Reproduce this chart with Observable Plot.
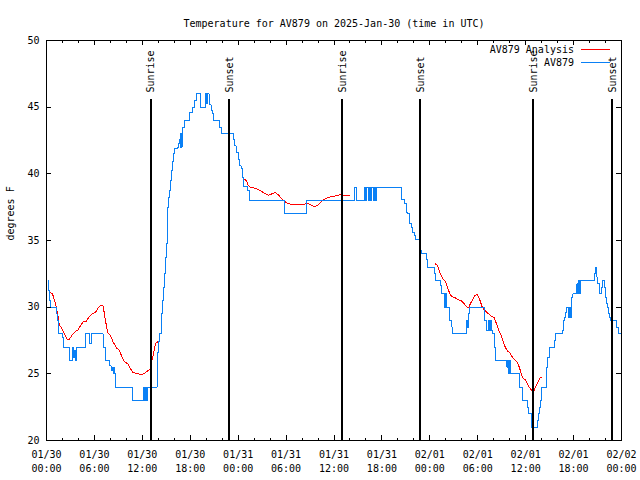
<!DOCTYPE html>
<html><head><meta charset="utf-8">
<script src="https://cdn.jsdelivr.net/npm/d3@7"></script>
<script src="https://cdn.jsdelivr.net/npm/@observablehq/plot@0.6"></script>
<style>body{margin:0;background:#fff} svg{display:block}</style>
</head><body><div id="chart"></div>
<script>
// ---- data (hours since 2025-01-30 00:00 UTC, degrees F) ----
const startUTC = Date.UTC(2025, 0, 30);
const titleText = "Temperature for AV879 on 2025-Jan-30 (time in UTC)";
const yLabel = "degrees F";
const seriesNames = ["AV879 Analysis", "AV879"];
const seriesColors = ["#ff0000", "#0a80f5"];
const yTicks = [20, 25, 30, 35, 40, 45, 50];
const xMajorHours = [0, 6, 12, 18, 24, 30, 36, 42, 48, 54, 60, 66, 72];
const xMinorHours = d3.range(0, 73, 2);
const xTickLabels = ["01/30\n00:00","01/30\n06:00","01/30\n12:00","01/30\n18:00","01/31\n00:00","01/31\n06:00","01/31\n12:00","01/31\n18:00","02/01\n00:00","02/01\n06:00","02/01\n12:00","02/01\n18:00","02/02\n00:00"];
const sunHours = [13.1, 22.94, 37.08, 46.85, 60.99, 70.88];
const sunLabels = ["Sunrise", "Sunset", "Sunrise", "Sunset", "Sunrise", "Sunset"];

// observed (step series)
const observed = [
[0.25,32],[0.29,31.25],[0.42,30.5],[0.54,30],[1.21,29.5],[1.33,29],[1.46,28],[1.96,27.75],[2.09,27],[2.92,26],
[3.25,27],[3.42,26.25],[3.55,26.75],[3.63,26],[3.75,27],[4.92,28],[5.42,27.25],[5.59,28],[7.09,27],[7.38,26],
[7.93,25.6],[8.09,25.25],[8.22,25.5],[8.34,25],[8.43,25.5],[8.51,25],[8.68,24],[10.81,23],[12.18,24],[12.31,23],
[12.43,24],[12.56,23],[12.68,24],[13.85,25.5],[13.93,26.6],[14.06,27.4],[14.19,28],[14.35,28.5],[14.44,29.5],[14.56,30.5],
[14.69,31.5],[14.77,32.5],[14.89,33.75],[14.98,34.75],[15.1,36.2],[15.19,37.5],[15.31,38.25],[15.39,38.75],[15.52,39.5],[15.64,40.25],
[15.81,40.9],[15.94,41.5],[16.06,41.9],[16.35,42],[16.52,42.3],[16.64,42.6],[16.73,42],[16.8,43],[16.9,42],[16.98,43],
[17.06,43.5],[17.31,44],[17.94,44.6],[18.23,45],[18.56,45.5],[18.73,46],[19.27,45],[19.95,46],[20.08,45.3],[20.2,46],
[20.35,45.2],[20.6,44.75],[20.78,44.5],[20.94,44],[21.69,43.5],[21.9,43],[23.44,42.6],[23.57,42.1],[23.73,41.6],[24.07,41.1],
[24.19,40.6],[24.36,40.4],[24.49,39.75],[24.62,39.05],[25.2,38.75],[25.41,38],[29.83,37],[32.55,38],[38.6,39],[38.77,38],
[39.84,39],[40.0,38],[40.1,39],[40.3,38],[40.43,39],[40.6,38],[40.72,39],[40.89,38],[41.01,39],[41.18,38],
[41.3,39],[44.5,38.1],[44.8,37.75],[45.05,37.1],[45.22,37],[45.47,36.25],[45.68,36],[45.89,35.6],[46.06,35.4],[46.18,35.05],
[46.81,34.25],[46.9,34],[47.56,33.6],[47.73,33],[48.56,32.5],[48.69,32],[49.31,31.6],[49.44,31],[49.86,30],[49.95,31],
[50.07,30],[50.44,29],[50.77,28.5],[50.86,28],[52.65,29],[52.75,28.5],[52.86,29.5],[52.98,30],[54.82,29],[55.07,28.75],
[55.15,28.25],[55.3,29],[55.45,28.25],[55.57,29],[55.7,28.25],[55.9,28],[56.07,27],[56.28,26],[57.66,25.5],[57.75,26],
[57.85,25],[57.95,26],[58.16,25],[59.2,24],[59.66,23],[60.24,22.5],[60.37,22],[60.75,21],[61.54,21.5],[61.62,22],
[61.74,22.5],[61.91,23],[62.03,24],[62.58,24.4],[62.66,25.5],[62.79,26.25],[62.99,27],[63.62,27.5],[63.75,28],[64.62,28.25],
[64.75,29],[64.87,29.25],[65.04,29.6],[65.16,30],[65.37,29.25],[65.5,30],[65.58,29.25],[65.71,30.4],[65.79,30.75],[65.92,31],
[66.33,31.5],[66.42,31.75],[66.5,31],[66.6,32],[66.7,31],[66.84,32],[68.63,32.5],[68.75,33],[68.92,32.25],[69.04,31.75],
[69.21,31],[69.54,31.5],[69.67,32],[69.83,31.5],[69.96,30.75],[70.09,30.25],[70.21,30],[70.34,29.5],[70.46,29.25],[70.63,29],
[71.38,28.5],[71.63,28],[71.85,28]
];

// analysis (null separates segments)
const analysis = [
[0.5,31.1],[0.75,31.0],[1.2,30.1],[1.42,29.4],[1.63,28.6],[1.83,28.5],[2.17,28.1],[2.58,27.6],[2.8,27.55],[3.21,27.9],
[3.63,28.2],[3.9,28.25],[4.25,28.6],[4.58,28.9],[5.0,28.95],[5.3,29.25],[5.7,29.5],[6.13,29.6],[6.42,29.9],[6.75,30.1],
[7.09,30.1],[7.38,29.0],[7.67,28.1],[8.0,27.9],[8.34,27.4],[8.75,26.95],[9.13,26.75],[9.47,26.25],[9.76,25.9],[10.2,25.75],
[10.5,25.4],[10.85,25.07],[11.35,25.05],[11.76,24.95],[12.18,25.0],[12.6,25.2],[13.02,25.35],[13.14,25.9],[13.35,26.4],[13.52,26.9],
[13.68,27.3],[14.06,27.45],
[14.5,null],
[24.7,39.6],[25.03,39.5],[25.2,39.2],[25.53,39.0],[26.16,38.9],[26.78,38.75],[27.12,38.6],[27.41,38.5],[27.82,38.4],[28.24,38.5],
[28.66,38.6],[29.08,38.4],[29.5,38.1],[29.7,38.0],[30.12,37.8],[30.7,37.7],[32.2,37.7],[32.6,37.8],[33.0,37.7],[33.45,37.55],
[33.87,37.6],[34.29,37.85],[34.7,38.05],[35.3,38.25],[35.96,38.3],[36.8,38.45],[37.0,38.4],[37.97,38.4],
[40,null],
[48.69,33.25],[48.98,33.1],[49.23,32.6],[49.52,32.25],[49.73,32.05],[49.94,31.95],[50.15,31.6],[50.35,31.25],[50.56,30.95],[50.77,30.8],
[51.19,30.7],[51.61,30.55],[51.9,30.5],[52.23,30.3],[52.57,30.05],[52.86,29.95],[53.07,30.25],[53.4,30.6],[53.69,30.9],[53.9,30.95],
[54.11,30.75],[54.32,30.45],[54.52,30.05],[54.82,29.8],[55.15,29.6],[55.48,29.45],[55.77,29.3],[56.07,29.2],[56.32,28.8],[56.61,28.3],
[56.9,27.9],[57.15,27.5],[57.44,27.0],[57.74,26.7],[58.07,26.55],[58.28,26.3],[58.57,26.1],[58.82,25.95],[58.99,25.8],[59.24,25.45],
[59.41,25.05],[59.66,24.7],[59.95,24.55],[60.24,24.25],[60.49,23.95],[60.79,23.75],[61.0,23.7],[61.2,23.95],[61.41,24.2],[61.62,24.45],
[61.83,24.7],[62.03,24.7]
];

// ---- chart ----
const toDate = h => new Date(startUTC + h * 3600e3);
const font = "'DejaVu Sans Mono', monospace";

const chart = Plot.plot({
  width: 640, height: 480,
  marginLeft: 46, marginRight: 19, marginTop: 40, marginBottom: 40,
  style: {fontFamily: font, fontSize: "10px", background: "white", color: "black", overflow: "visible"},
  x: {type: "utc", domain: [toDate(0), toDate(72)], axis: null},
  y: {domain: [20, 50], axis: null},
  marks: [
    // data
    Plot.line(analysis, {x: d => toDate(d[0]), y: d => d[1], stroke: seriesColors[0], strokeWidth: 1, shapeRendering: "crispEdges"}),
    Plot.line(observed, {x: d => toDate(d[0]), y: d => d[1], stroke: seriesColors[1], strokeWidth: 1, curve: "step-after", shapeRendering: "crispEdges"}),
    // sun lines + labels
    Plot.ruleX(sunHours, {x: toDate, stroke: "black", strokeWidth: 2, dx: -0.5, insetTop: 59, shapeRendering: "crispEdges"}),
    Plot.text(sunHours, {x: toDate, text: (d, i) => sunLabels[i], frameAnchor: "top", dy: 52, rotate: -90, textAnchor: "start", lineAnchor: "middle", fill: "black"}),
    // ticks (inward, mirrored)
    Plot.ruleX(xMajorHours, {x: toDate, insetTop: 395, stroke: "black", shapeRendering: "crispEdges"}),
    Plot.ruleX(xMajorHours, {x: toDate, insetBottom: 395, stroke: "black", shapeRendering: "crispEdges"}),
    Plot.ruleX(xMinorHours, {x: toDate, insetTop: 397.5, stroke: "black", shapeRendering: "crispEdges"}),
    Plot.ruleX(xMinorHours, {x: toDate, insetBottom: 397.5, stroke: "black", shapeRendering: "crispEdges"}),
    Plot.ruleY(yTicks, {y: d => d, insetRight: 570, stroke: "black", shapeRendering: "crispEdges"}),
    Plot.ruleY(yTicks, {y: d => d, insetLeft: 570, stroke: "black", shapeRendering: "crispEdges"}),
    Plot.frame({stroke: "black", shapeRendering: "crispEdges"}),
    // tick labels
    Plot.text(yTicks, {y: d => d, text: d => String(d), frameAnchor: "left", dx: -7, textAnchor: "end", fill: "black"}),
    Plot.text(xMajorHours, {x: toDate, text: (d, i) => xTickLabels[i], frameAnchor: "bottom", dy: 8, lineAnchor: "top", lineHeight: 1.4, fill: "black"}),
    // titles
    Plot.text([titleText], {text: d => d, frameAnchor: "top", dy: -21, fill: "black"}),
    Plot.text([yLabel], {text: d => d, frameAnchor: "left", dx: -36, rotate: -90, fill: "black"})
  ]
});

// legend (top-right, gnuplot style)
const svg = d3.select(chart);
const lg = svg.append("g").attr("font-family", font).attr("font-size", 10);
seriesNames.forEach((name, i) => {
  const yy = 50 + i * 13;
  lg.append("text").attr("x", 574).attr("y", yy).attr("dy", "0.32em").attr("text-anchor", "end").attr("fill", "black").text(name);
  lg.append("line").attr("x1", 581).attr("x2", 610).attr("y1", yy - 0.5).attr("y2", yy - 0.5)
    .attr("stroke", seriesColors[i]).attr("stroke-width", 1).attr("shape-rendering", "crispEdges");
});

document.getElementById("chart").appendChild(chart);
</script>
</body></html>
